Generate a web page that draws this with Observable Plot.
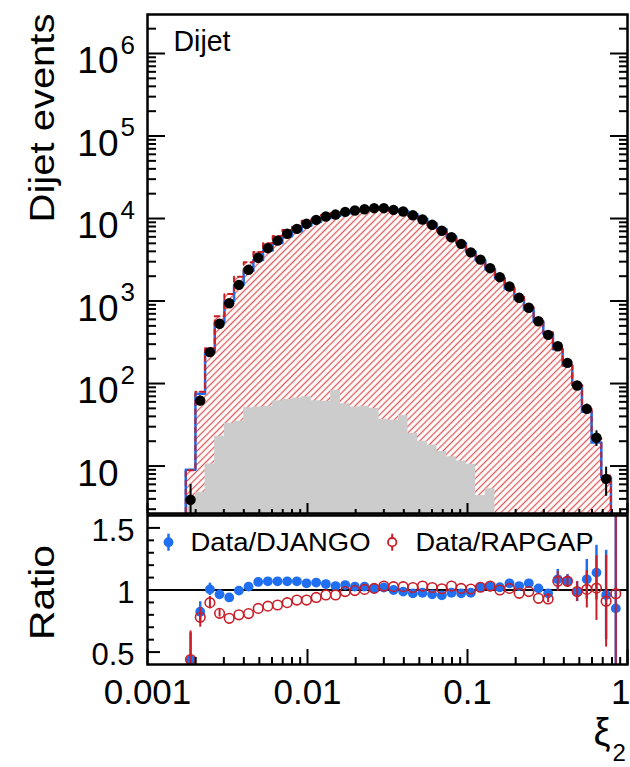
<!DOCTYPE html>
<html><head><meta charset="utf-8">
<script src="https://cdn.jsdelivr.net/npm/d3@7"></script>
<script src="https://cdn.jsdelivr.net/npm/@observablehq/plot@0.6"></script>
<style>
html,body{margin:0;padding:0;background:#fff;}
#chart{position:relative;width:630px;height:767px;overflow:hidden;}
#chart svg{position:absolute;left:0;}
</style></head><body><div id="chart"></div>
<script>
// ---- data ----
const binEdges = [0.001734,0.001993,0.002290,0.002632,0.003024,0.003475,0.003994,0.004589,0.005274,0.006061,0.006966,0.008005,0.009199,0.010573,0.012149,0.013964,0.016046,0.018443,0.021195,0.024357,0.02799,0.032166,0.036966,0.042481,0.04882,0.056105,0.064477,0.074096,0.085152,0.097859,0.11246,0.12924,0.14852,0.17068,0.19615,0.22542,0.25905,0.29771,0.34212,0.39318,0.45186,0.51928,0.59676,0.68581,0.78813,0.90573];
const dataCounts = [3.9,62,240,530,940,1570,2390,3340,4370,5400,6530,7500,8630,9640,10570,11170,12030,12500,12970,13340,13340,12740,12160,10970,9730,8390,7100,5930,4930,3890,3180,2500,1945,1500,1094,828,569,389,283,178,94.6,49.3,22,7.0,2.0];
const dataErr = [2.1,8,0,0,0,0,0,0,0,0,0,0,0,0,0,0,0,0,0,0,0,0,0,0,0,0,0,0,0,0,0,0,0,0,0,0,0,0,0,0,0,7,4.7,2.7,0];
const djangoCounts = [9.0,75,239,549,1000,1578,2327,3136,4084,5047,6103,7009,8188,9094,10086,10824,11567,12171,12629,13169,13078,12740,12320,11274,9949,8694,7419,6063,5067,3978,3112,2434,1903,1423,1060,786,562,400,261,166,95.8,45.4,19.3,7.3,2.35];
const rapgapCounts = [8.9,79.5,267,653,1218,1963,2951,3920,5023,6143,7272,8161,9391,10255,11010,11635,12188,12563,12905,13169,12926,12405,11840,10755,9428,8225,7030,5746,4867,3859,3112,2422,1945,1481,1124,839,610,419,264,166,95.8,49.1,21.7,7.7,2.06];
const grayCounts = [4.0,4.8,10.6,23,33,35,51,52,53,62,64,67,69,62,61,83,57,52,53,50,37,36,41,25,20,18,15,13,11.5,10.5,4.4,5.3];
const ratioDjango = [0.435,0.825,1.005,0.965,0.94,0.995,1.027,1.065,1.07,1.07,1.07,1.07,1.054,1.06,1.048,1.032,1.04,1.027,1.027,1.013,1.02,1.0,0.987,0.973,0.978,0.965,0.957,0.978,0.973,0.978,1.022,1.027,1.022,1.054,1.032,1.054,1.013,0.973,1.086,1.075,0.987,1.086,1.14,0.96,0.852];
const ratioRapgap = [0.44,0.78,0.898,0.812,0.772,0.80,0.81,0.852,0.87,0.879,0.898,0.919,0.919,0.94,0.96,0.96,0.987,0.995,1.005,1.013,1.032,1.027,1.027,1.02,1.032,1.02,1.01,1.032,1.013,1.008,1.022,1.032,1.0,1.013,0.973,0.987,0.933,0.928,1.07,1.07,0.987,1.005,1.015,0.91,0.97];
const errDjango = [0.22,0.08,0.05,0.035,0,0,0,0,0,0,0,0,0,0,0,0,0,0,0,0,0,0,0,0,0,0,0,0,0,0,0,0,0,0,0,0,0,0.03,0.08,0.05,0.08,0.16,0.22,0.36,0.75];
const errRapgap = [0.23,0.08,0.05,0.03,0,0,0,0,0,0,0,0,0,0,0,0,0,0,0,0,0,0,0,0,0,0,0,0,0,0,0,0,0,0,0,0,0,0.03,0.08,0.05,0.08,0.15,0.26,0.37,0.75];
const yTickValues = [10,100,1000,10000,100000,1000000];
const yTickExp = ["","2","3","4","5","6"];
const xTickValues = [0.001,0.01,0.1,1];
const xTickLabels = ["0.001","0.01","0.1","1"];
const ratioTickValues = [0.5,1,1.5];
const ratioTickLabels = ["0.5","1","1.5"];
const ratioMinor = [0.6,0.7,0.8,0.9,1.1,1.2,1.3,1.4];
const legendLabels = ["Data/DJANGO","Data/RAPGAP"];

// ---- styles ----
const FONT = '"Liberation Sans", Arial, Helvetica, sans-serif';
const blue = "#1f6ff0", red = "#c81e28", gray = "#cccccc";

const yMinor = [];
for (const d of [1,10,100,1e3,1e4,1e5,1e6]) for (let k=2;k<=9;k++){const v=k*d; if (v>2.7 && v<2.95e6) yMinor.push(v);}
const xMinor = [];
for (const d of [0.001,0.01,0.1]) for (let k=2;k<=9;k++) xMinor.push(k*d);

const bins = binEdges.slice(0,-1).map((e,i)=>({i, x: Math.sqrt(e*binEdges[i+1]), data: dataCounts[i], err: dataErr[i],
  rD: ratioDjango[i], rR: ratioRapgap[i], eD: errDjango[i], eR: errRapgap[i]}));
function stepPts(vals, n, withBase){
  const pts = [];
  if (withBase) pts.push({x: binEdges[0], y: 1});
  for (let i=0;i<n;i++) pts.push({x: binEdges[i], y: vals[i]});
  pts.push({x: binEdges[n], y: vals[n-1]});
  if (withBase) pts.push({x: binEdges[n], y: 1});
  return pts;
}
const vbar = {draw(ctx, size){const r = Math.sqrt(size/Math.PI); ctx.moveTo(0,-r); ctx.lineTo(0,r);}};
const xTicks = xTickValues.map((v,i)=>({v, label: xTickLabels[i]}));

const topPlot = Plot.plot({
  width: 630, height: 515, marginLeft: 147, marginRight: 3, marginTop: 14, marginBottom: 2,
  style: {fontFamily: FONT, background: "transparent", overflow: "visible", color: "black"},
  x: {type: "log", domain: [0.001, 1], axis: null},
  y: {type: "log", domain: [2.66, 2.97e6], axis: null},
  marks: [
    Plot.areaY(stepPts(rapgapCounts,45,false), {x:"x", y1: 1, y2:"y", curve:"step-after", fill:"url(#hatch)", clip:true}),
    Plot.areaY(stepPts(grayCounts,32,false), {x:"x", y1: 1, y2:"y", curve:"step-after", fill: gray, clip:true}),
    Plot.line(stepPts(djangoCounts,45,true), {x:"x", y:"y", curve:"step-after", stroke: blue, strokeWidth:2.5, clip:true}),
    Plot.line(stepPts(rapgapCounts,45,true), {x:"x", y:"y", curve:"step-after", stroke: red, strokeWidth:2, strokeDasharray:"5,4", clip:true}),
    Plot.ruleX(bins.filter(b=>b.err>0), {x:"x", y1: b=>b.data-b.err, y2: b=>b.data+b.err, stroke:"black", strokeWidth:2, clip:true}),
    Plot.dot(bins.filter(b=>b.i<44), {x:"x", y:"data", r:5.2, fill:"black", clip:true}),
    Plot.tickY(yTickValues, {y:d=>d, insetRight:462, strokeWidth:2}),
    Plot.tickY(yMinor, {y:d=>d, insetRight:471, strokeWidth:2}),
    Plot.tickY(yTickValues, {y:d=>d, insetLeft:463, strokeWidth:2}),
    Plot.tickY(yMinor, {y:d=>d, insetLeft:472, strokeWidth:2}),
    Plot.tickX(xTickValues, {x:d=>d, insetTop:489, strokeWidth:2}),
    Plot.tickX(xMinor, {x:d=>d, insetTop:495, strokeWidth:2}),
    Plot.frame({strokeWidth:2.5}),
    Plot.text(yTickValues, {y:d=>d, text:()=>"10", frameAnchor:"left", textAnchor:"end", lineAnchor:"bottom", dx:-29, dy:19.7, fontSize:37}),
    Plot.text(yTickValues, {y:d=>d, text:(d,i)=>yTickExp[i], frameAnchor:"left", textAnchor:"start", lineAnchor:"bottom", dx:-27, dy:0.3, fontSize:26}),
    Plot.text(["Dijet"], {frameAnchor:"top-left", textAnchor:"start", lineAnchor:"bottom", dx:26, dy:36, fontSize:30}),
    Plot.text(["Dijet events"], {frameAnchor:"left", rotate:-90, textAnchor:"middle", lineAnchor:"bottom", dx:-94, dy:-146, fontSize:35})
  ]
});

const bottomPlot = Plot.plot({
  width: 630, height: 262, marginLeft: 147, marginRight: 3, marginTop: 10, marginBottom: 103,
  style: {fontFamily: FONT, background: "transparent", overflow: "visible", color: "black"},
  x: {type: "log", domain: [0.001, 1], axis: null},
  y: {domain: [0.4, 1.6], axis: null},
  marks: [
    Plot.ruleY([1], {stroke:"black", strokeWidth:2}),
    Plot.ruleX(bins.filter(b=>b.eD>0), {x:"x", y1:b=>b.rD-b.eD, y2:b=>b.rD+b.eD, stroke: blue, strokeWidth:2.5, clip:true}),
    Plot.dot(bins, {x:"x", y:"rD", r:4.9, fill: blue, clip:true}),
    Plot.ruleX(bins.filter(b=>b.eR>0), {x:"x", y1:b=>b.rR-b.eR, y2:b=>b.rR+b.eR, stroke: red, strokeWidth:2, clip:true}),
    Plot.dot(bins, {x:"x", y:"rR", r:4.8, stroke: red, strokeWidth:1.6, fill:"none", clip:true}),
    Plot.tickY(ratioTickValues, {y:d=>d, insetRight:467, strokeWidth:2}),
    Plot.tickY(ratioMinor, {y:d=>d, insetRight:473, strokeWidth:2}),
    Plot.tickX(xTickValues, {x:d=>d, insetTop:134, strokeWidth:2}),
    Plot.tickX(xMinor, {x:d=>d, insetTop:142, strokeWidth:2}),
    Plot.frame({strokeWidth:2.5}),
    // legend
    Plot.dot([0], {frameAnchor:"top-left", dx:21, dy:26.7, r:8.5, symbol: vbar, stroke: blue, strokeWidth:2.5, fill:"none"}),
    Plot.dot([0], {frameAnchor:"top-left", dx:21, dy:26.7, r:4.9, fill: blue}),
    Plot.text([legendLabels[0]], {frameAnchor:"top-left", textAnchor:"start", lineAnchor:"bottom", dx:43, dy:35, fontSize:25.6}),
    Plot.dot([0], {frameAnchor:"top-left", dx:244.7, dy:26.7, r:8.5, symbol: vbar, stroke: red, strokeWidth:2, fill:"none"}),
    Plot.dot([0], {frameAnchor:"top-left", dx:244.7, dy:26.7, r:4.2, stroke: red, strokeWidth:1.8, fill:"white"}),
    Plot.text([legendLabels[1]], {frameAnchor:"top-left", textAnchor:"start", lineAnchor:"bottom", dx:268, dy:35, fontSize:25.6}),
    // axis labels
    Plot.text(ratioTickValues, {y:d=>d, text:(d,i)=>ratioTickLabels[i], frameAnchor:"left", textAnchor:"end", lineAnchor:"middle", dx:-13, dy:3, fontSize:31}),
    Plot.text(xTicks.slice(0,3), {x:"v", text:"label", frameAnchor:"bottom", textAnchor:"middle", lineAnchor:"bottom", dy:39, fontSize:35}),
    Plot.text(xTicks.slice(3), {x:"v", text:"label", frameAnchor:"bottom", textAnchor:"end", lineAnchor:"bottom", dx:3, dy:39, fontSize:35}),
    Plot.text(["Ratio"], {frameAnchor:"left", rotate:-90, textAnchor:"middle", lineAnchor:"bottom", dx:-94, dy:2.5, fontSize:35}),
    Plot.text(["ξ"], {frameAnchor:"bottom-right", textAnchor:"start", lineAnchor:"bottom", dx:-34, dy:80, fontSize:38}),
    Plot.text(["2"], {frameAnchor:"bottom-right", textAnchor:"start", lineAnchor:"bottom", dx:-15, dy:96, fontSize:24})
  ]
});

// hatch pattern
const defs = d3.select(topPlot).insert("defs", ":first-child");
const pat = defs.append("pattern").attr("id","hatch").attr("patternUnits","userSpaceOnUse")
  .attr("width",4.7).attr("height",10).attr("patternTransform","rotate(45)");
pat.append("rect").attr("width",4.7).attr("height",10).attr("fill","white");
pat.append("line").attr("x1",2.35).attr("y1",0).attr("x2",2.35).attr("y2",10).attr("stroke","#df5a5a").attr("stroke-width",1.3);

// fit text lengths as in the reference
const lengths = {"Dijet events":209, "Ratio":95, "Data/DJANGO":180, "Data/RAPGAP":178, "Dijet":57};
for (const svg of [topPlot, bottomPlot]) {
  svg.querySelectorAll("text").forEach(t => {
    const L = lengths[t.textContent];
    if (L) { t.setAttribute("textLength", L); t.setAttribute("lengthAdjust", "spacingAndGlyphs"); }
  });
}

const chart = document.getElementById("chart");
topPlot.style.top = "0px";
bottomPlot.style.top = "505px";
chart.appendChild(topPlot);
chart.appendChild(bottomPlot);
</script>
</body></html>
